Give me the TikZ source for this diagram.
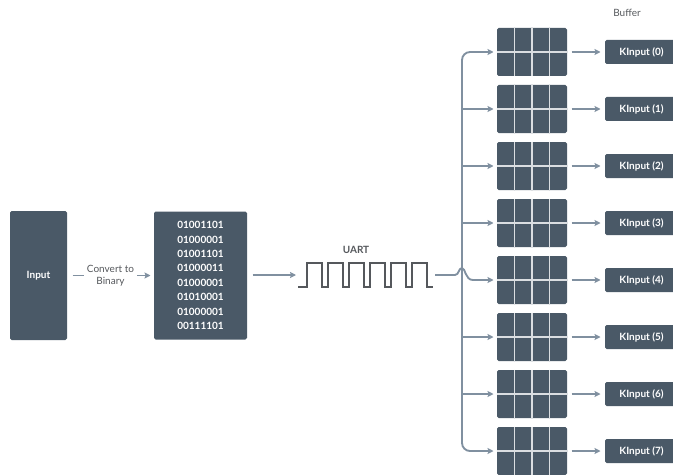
\documentclass[tikz,border=0pt]{standalone}
\usepackage{fontspec}
\setmainfont{Lato}
\usetikzlibrary{arrows.meta}

\definecolor{slate}{RGB}{74,89,103}
\definecolor{wirec}{RGB}{128,144,160}
\definecolor{inkc}{RGB}{85,88,92}

\tikzset{every picture/.style={line width=0.75pt}}
\tikzset{
  box/.style={fill=slate, draw=none, rounded corners=1.2pt, text=white, inner sep=0pt,
    font=\fontsize{7.5}{10.8}\selectfont\bfseries},
  grid/.style={fill=slate, draw=none, rounded corners=1.2pt, inner sep=0pt,
    minimum width=52.5pt, minimum height=36pt},
  kin/.style={box, minimum width=54.75pt, minimum height=18pt},
  cell/.style={draw=white!80!slate, line width=0.8pt},
  wire/.style={draw=wirec, line width=1.4pt, -{Stealth[length=4.5pt,width=4.5pt,inset=0.8pt]}},
  bare/.style={draw=wirec, line width=1.4pt},
  wave/.style={draw=inkc, line width=1.1pt},
  lbl/.style={text=inkc, inner sep=1.5pt, font=\fontsize{7.5}{9}\selectfont},
}

\begin{document}
\begin{tikzpicture}[x=0.75pt,y=0.75pt,yscale=-1,xscale=1]
\useasboundingbox (0,0) rectangle (673,474);

% Input and binary blocks
\node[box, minimum width=42.75pt, minimum height=96.75pt] (input) at (38.5,275.5) {Input};
\node[box, minimum width=69.75pt, minimum height=96pt, align=center] (bin) at (200.5,275.5)
  {01001101\\01000001\\01001101\\01000011\\01000001\\01010001\\01000001\\00111101};

% Convert to Binary
\draw[wire, shorten <=3.75pt, shorten >=2.25pt] (input) -- node[lbl, fill=white, align=center, inner sep=2pt] (conv) {Convert to\\Binary} (bin);

% UART signal
\coordinate (wavein) at (296,275);
\coordinate (wout) at (435,275);
\draw[wire, shorten <=3.75pt] (bin.east |- wavein) -- (wavein);
\draw[wave] (298,287) -- (307,287) foreach \k in {0,...,5} { -- ++(0,-24) -- ++(15,0) -- ++(0,24) -- ++(6,0) };
\node[lbl, font=\fontsize{7.5}{9}\selectfont\bfseries] (uart) at (356,250) {UART};

% Buffer
\node[lbl] (buffer) at (627,13) {Buffer};
\foreach \k in {0,...,7} {
  \node[grid] (g\k) at (532,52+57*\k) {};
  \draw[cell] (g\k.west) -- (g\k.east);
  \draw[cell] (g\k.north) -- (g\k.south);
  \draw[cell] ([xshift=-13.125pt]g\k.north) -- ([xshift=-13.125pt]g\k.south);
  \draw[cell] ([xshift=13.125pt]g\k.north) -- ([xshift=13.125pt]g\k.south);
  \node[kin] (kin\k) at (641.5,52+57*\k) {KInput (\k)};
  \draw[wire, shorten <=3pt, shorten >=3pt] (g\k.east) -- (kin\k.west);
}

% Bus to buffers
\coordinate (bus) at (462,280);
\draw[wire, rounded corners=6pt, shorten >=2.25pt] (bus) |- (g0.west);
\draw[wire, rounded corners=6pt, shorten >=2.25pt] (bus) |- (g7.west);
\foreach \k in {1,2,3,5,6} {
  \draw[wire, shorten >=2.25pt] (bus |- g\k.west) -- (g\k.west);
}
\draw[wire, shorten >=2.25pt] (wout) -- (455,275) .. controls (459,275) and (458.5,268) .. (462,268) .. controls (465.5,268) and (465,280) .. (473,280) -- (g4.west);

\end{tikzpicture}
\end{document}
